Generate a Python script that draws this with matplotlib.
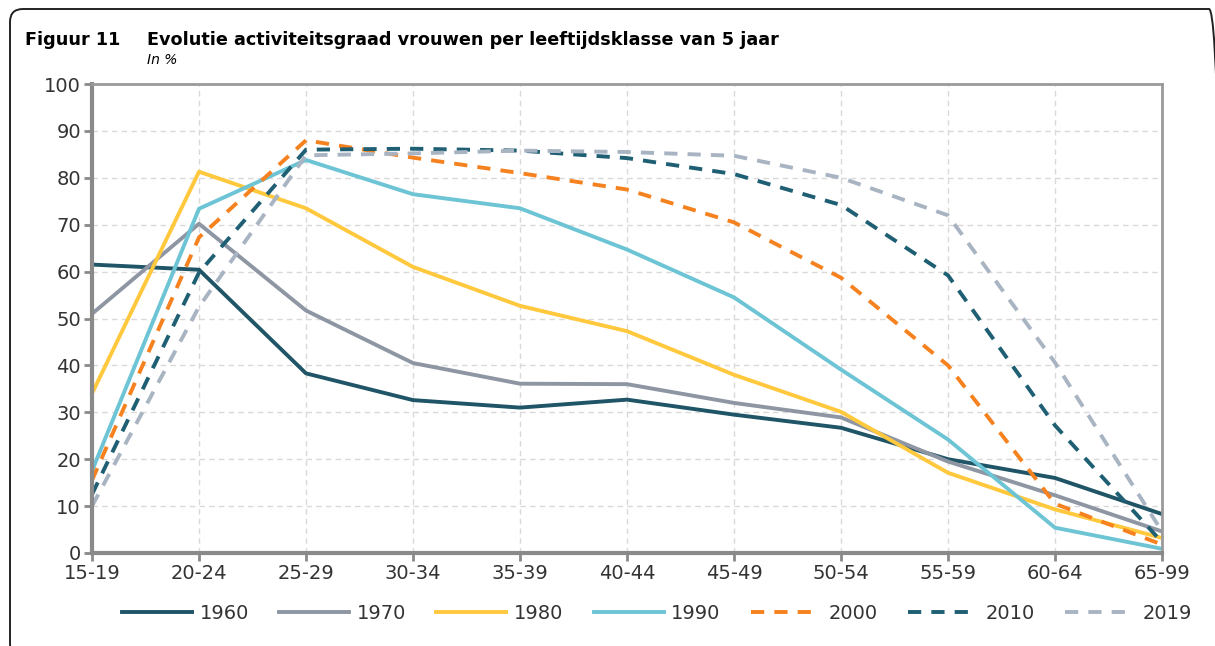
import numpy as np
import matplotlib.pyplot as plt
from matplotlib.patches import FancyBboxPatch

# age classes and participation rates (%) per year
klassen = ["15-19", "20-24", "25-29", "30-34", "35-39", "40-44",
           "45-49", "50-54", "55-59", "60-64", "65-99"]
v1960 = [61.5, 60.4, 38.3, 32.6, 31.0, 32.7, 29.5, 26.7, 20.0, 16.0, 8.3]
v1970 = [51.0, 70.2, 51.7, 40.5, 36.1, 36.0, 32.0, 28.9, 19.5, 12.3, 4.6]
v1980 = [34.0, 81.3, 73.5, 61.0, 52.7, 47.3, 38.0, 30.1, 17.1, 9.3, 3.2]
v1990 = [17.5, 73.4, 83.8, 76.5, 73.5, 64.7, 54.5, 39.1, 24.2, 5.4, 0.9]
v2000 = [15.5, 67.3, 88.0, 84.3, 81.0, 77.5, 70.5, 58.7, 40.0, 10.5, 1.8]
v2010 = [12.5, 59.8, 86.0, 86.2, 85.8, 84.2, 80.8, 74.2, 59.2, 27.2, 2.3]
v2019 = [10.0, 52.5, 84.8, 85.2, 85.8, 85.5, 84.7, 80.0, 72.0, 40.6, 4.6]

jaren = ["1960", "1970", "1980", "1990", "2000", "2010", "2019"]
reeksen = [v1960, v1970, v1980, v1990, v2000, v2010, v2019]
kleuren = ["#1F5566", "#8E96A3", "#FFC83D", "#6CC4D4", "#F5821F", "#1F5F73", "#A9B4C3"]
stijlen = ["-", "-", "-", "-", "--", "--", "--"]

fig = plt.figure(figsize=(12.15, 6.46), dpi=100)
ax = fig.add_axes([92 / 1215, 1 - 553 / 646, (1162 - 92) / 1215, (553 - 84) / 646])

x = np.arange(len(klassen))
for vals, lab, c, ls in zip(reeksen, jaren, kleuren, stijlen):
    if ls == "--":
        ax.plot(x, vals, color=c, lw=2.8, ls=(0, (3.4, 2.6)), label=lab)
    else:
        ax.plot(x, vals, color=c, lw=2.8, label=lab)

ax.set_xlim(0, len(klassen) - 1)
ax.set_ylim(0, 100)
ax.set_xticks(x)
ax.set_xticklabels(klassen)
ax.set_yticks(np.arange(0, 101, 10))
ax.tick_params(labelsize=14, colors="#8A8A8A", labelcolor="#333333",
               length=6, width=2, pad=2)
ax.grid(True, color="#D9D9D9", ls=(0, (4, 3)), lw=1)
ax.set_axisbelow(True)
for side in ["left", "bottom"]:
    ax.spines[side].set_color("#8A8A8A")
    ax.spines[side].set_linewidth(3)
for side in ["top", "right"]:
    ax.spines[side].set_color("#9A9A9A")
    ax.spines[side].set_linewidth(2)

ax.legend(loc="center", bbox_to_anchor=(0.528, -0.128), ncol=7, frameon=False,
          fontsize=14, handlelength=3.6, columnspacing=1.55, handletextpad=0.4,
          labelcolor="#333333")

fig.text(25 / 1215, 1 - 45 / 646, "Figuur 11", fontsize=12.7, fontweight="bold",
         va="baseline")
fig.text(147 / 1215, 1 - 45 / 646,
         "Evolutie activiteitsgraad vrouwen per leeftijdsklasse van 5 jaar",
         fontsize=12.7, fontweight="bold", va="baseline")
fig.text(147 / 1215, 1 - 64 / 646, "In %", fontsize=10, style="italic",
         va="baseline")

# frame: only top-left part visible, rest runs off the picture
rand = FancyBboxPatch((0.10, -0.11), 12.12, 6.46 - 0.09 + 0.11,
                      boxstyle="round,pad=0,rounding_size=0.13",
                      transform=fig.dpi_scale_trans, fill=False, ec="#222222", lw=1.4)
fig.patches.append(rand)

fig.savefig("out.png", dpi=100)
